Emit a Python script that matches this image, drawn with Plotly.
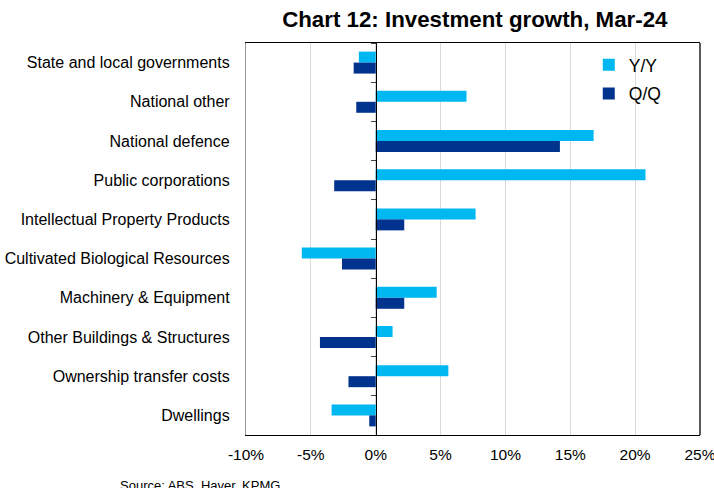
import plotly.graph_objects as go

# Investment categories, top to bottom
categories = [
    "State and local governments",
    "National other",
    "National defence",
    "Public corporations",
    "Intellectual Property Products",
    "Cultivated Biological Resources",
    "Machinery & Equipment",
    "Other Buildings & Structures",
    "Ownership transfer costs",
    "Dwellings",
]

# Growth rates, per cent
yoy = [-1.3, 7.0, 16.8, 20.8, 7.7, -5.7, 4.7, 1.3, 5.6, -3.4]
qoq = [-1.7, -1.5, 14.2, -3.2, 2.2, -2.6, 2.2, -4.3, -2.1, -0.5]

x_ticks = [-10, -5, 0, 5, 10, 15, 20, 25]
x_tick_labels = ["-10%", "-5%", "0%", "5%", "10%", "15%", "20%", "25%"]

FONT = "Liberation Sans, Arial, sans-serif"
LIGHT_BLUE = "#00B8F1"
DARK_BLUE = "#00338D"
X_MIN, X_MAX = -10, 25

fig = go.Figure()
fig.add_trace(go.Bar(
    name="Y/Y", y=categories, x=yoy, orientation="h", legendgroup="yy",
    marker=dict(color=LIGHT_BLUE, line=dict(width=0)),
))
fig.add_trace(go.Bar(
    name="Q/Q", y=categories, x=qoq, orientation="h", legendgroup="qq",
    marker=dict(color=DARK_BLUE, line=dict(width=0)),
))
# helper trace so the zero-line axis carries the category ticks
fig.add_trace(go.Scatter(
    x=yoy, y=categories, yaxis="y2", mode="none",
    showlegend=False, hoverinfo="skip",
))

fig.update_layout(
    width=714, height=488,
    margin=dict(l=246, r=14, t=43, b=53, autoexpand=False),
    paper_bgcolor="white", plot_bgcolor="white",
    font=dict(family=FONT, color="black"),
    barmode="group", bargap=0.44, bargroupgap=0,
    title=dict(
        text="<b>Chart 12: Investment growth, Mar-24</b>",
        font=dict(family=FONT, size=22.3, color="black"),
        xref="paper", x=0.504, xanchor="center",
        yref="container", y=1 - 19 / 488, yanchor="middle",
    ),
    xaxis=dict(
        range=[X_MIN, X_MAX], tickvals=x_ticks, ticktext=x_tick_labels,
        showgrid=True, gridcolor="#D9D9D9", gridwidth=1,
        zeroline=False, showline=True, linecolor="black", linewidth=1.3,
        mirror=True, ticks="", ticklabelstandoff=5, automargin=False,
        ticklabeloverflow="allow",
        tickfont=dict(size=15.5, color="black"),
    ),
    yaxis=dict(
        type="category", categoryorder="array", categoryarray=categories,
        range=[len(categories) - 0.5, -0.5],
        showgrid=False, zeroline=False, automargin=False,
        showline=True, linecolor="#9A9A9A", linewidth=1.3,
        ticks="", ticklabelstandoff=12,
        tickfont=dict(size=16, color="black"),
    ),
    yaxis2=dict(
        type="category", categoryorder="array", categoryarray=categories,
        range=[len(categories) - 0.5, -0.5],
        overlaying="y", anchor="free", automargin=False,
        position=(0 - X_MIN) / (X_MAX - X_MIN),
        showgrid=False, zeroline=False, showticklabels=False,
        showline=True, linecolor="black", linewidth=1.3,
        ticks="outside", tickson="boundaries", ticklen=5,
        tickcolor="#404040", tickwidth=1.3,
    ),
    legend=dict(
        x=0.755, y=0.99, xanchor="left", yanchor="top",
        bgcolor="rgba(0,0,0,0)", font=dict(size=17.5, color="black"),
        itemwidth=30, tracegroupgap=3, traceorder="grouped",
    ),
    showlegend=True,
)

# right-hand border of the plot area
fig.add_shape(type="line", xref="x domain", yref="y domain",
              x0=1, x1=1, y0=0, y1=1, line=dict(color="black", width=1.3))

fig.add_annotation(
    text="Source: ABS, Haver, KPMG", xref="paper", yref="paper",
    x=(118 - 246) / 454, y=(435 - 485) / 392,
    xanchor="left", yanchor="middle", showarrow=False,
    font=dict(family=FONT, size=13, color="black"),
)

fig.write_html("out.html")
